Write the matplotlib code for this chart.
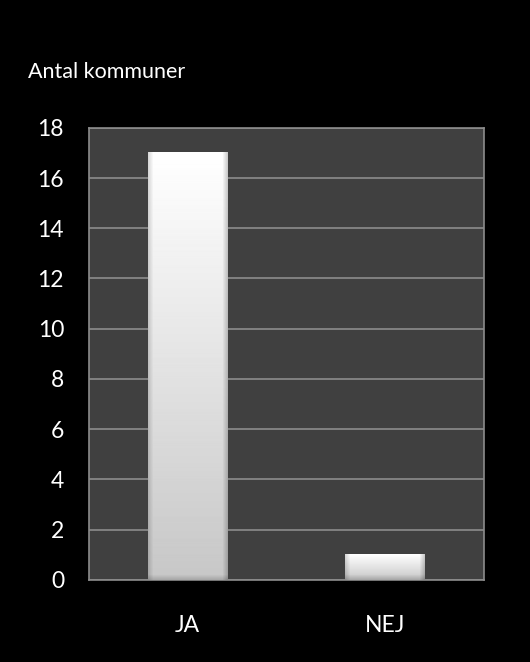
import numpy as np
import matplotlib
matplotlib.use("Agg")
import matplotlib.pyplot as plt

# --- Dados ---
categorias = ["JA", "NEJ"]
antal = [17, 1]
yticks = [0, 2, 4, 6, 8, 10, 12, 14, 16, 18]

plt.rcParams['font.family'] = ['Lato', 'DejaVu Sans']

fig = plt.figure(figsize=(5.3, 6.62), dpi=100, facecolor='black')
ax = fig.add_axes([0.168, 0.124, 0.745, 0.683], facecolor='#404040')

x = np.arange(len(categorias))
barras = ax.bar(x, antal, width=0.405, color='none', zorder=3)

# gradiente branco -> cinza com bordas em relevo
def textura(h_px, w_px):
    v = np.linspace(1.0, 0.78, h_px)[:, None]
    img = np.repeat(v, w_px, axis=1)
    borda = 6
    sombra_x = np.ones(w_px)
    sombra_x[:borda] = np.linspace(0.85, 1.0, borda)
    sombra_x[-borda:] = np.linspace(1.0, 0.8, borda)
    img = img * sombra_x[None, :]
    sombra_y = np.ones(h_px)
    b = min(borda, h_px // 3)
    sombra_y[-b:] = np.linspace(1.0, 0.85, b)
    img = img * sombra_y[:, None]
    return np.clip(img, 0, 1)

for barra in barras:
    x0 = barra.get_x()
    w = barra.get_width()
    h = barra.get_height()
    altura_px = max(int(h / 18 * 450), 10)
    ax.imshow(textura(altura_px, 80), cmap='gray', vmin=0, vmax=1,
              extent=[x0, x0 + w, 0, h], aspect='auto', zorder=3,
              interpolation='bilinear')

ax.set_xlim(-0.5, 1.5)
ax.set_ylim(0, 18)
ax.set_yticks(yticks)
ax.set_xticks(x)
ax.set_xticklabels(categorias)
ax.grid(axis='y', color='#8c8c8c', linewidth=1.2, zorder=1)
ax.tick_params(axis='both', length=0, colors='white', labelsize=16.5)
ax.tick_params(axis='y', pad=18)
ax.tick_params(axis='x', pad=25)
for lado in ['top', 'right', 'left', 'bottom']:
    ax.spines[lado].set_color('#8c8c8c')
    ax.spines[lado].set_linewidth(1.2)

fig.text(28 / 530, 1 - 72 / 662, 'Antal kommuner', color='white',
         fontsize=15.5, ha='left', va='center')

fig.savefig('out.png', dpi=100, facecolor='black')
